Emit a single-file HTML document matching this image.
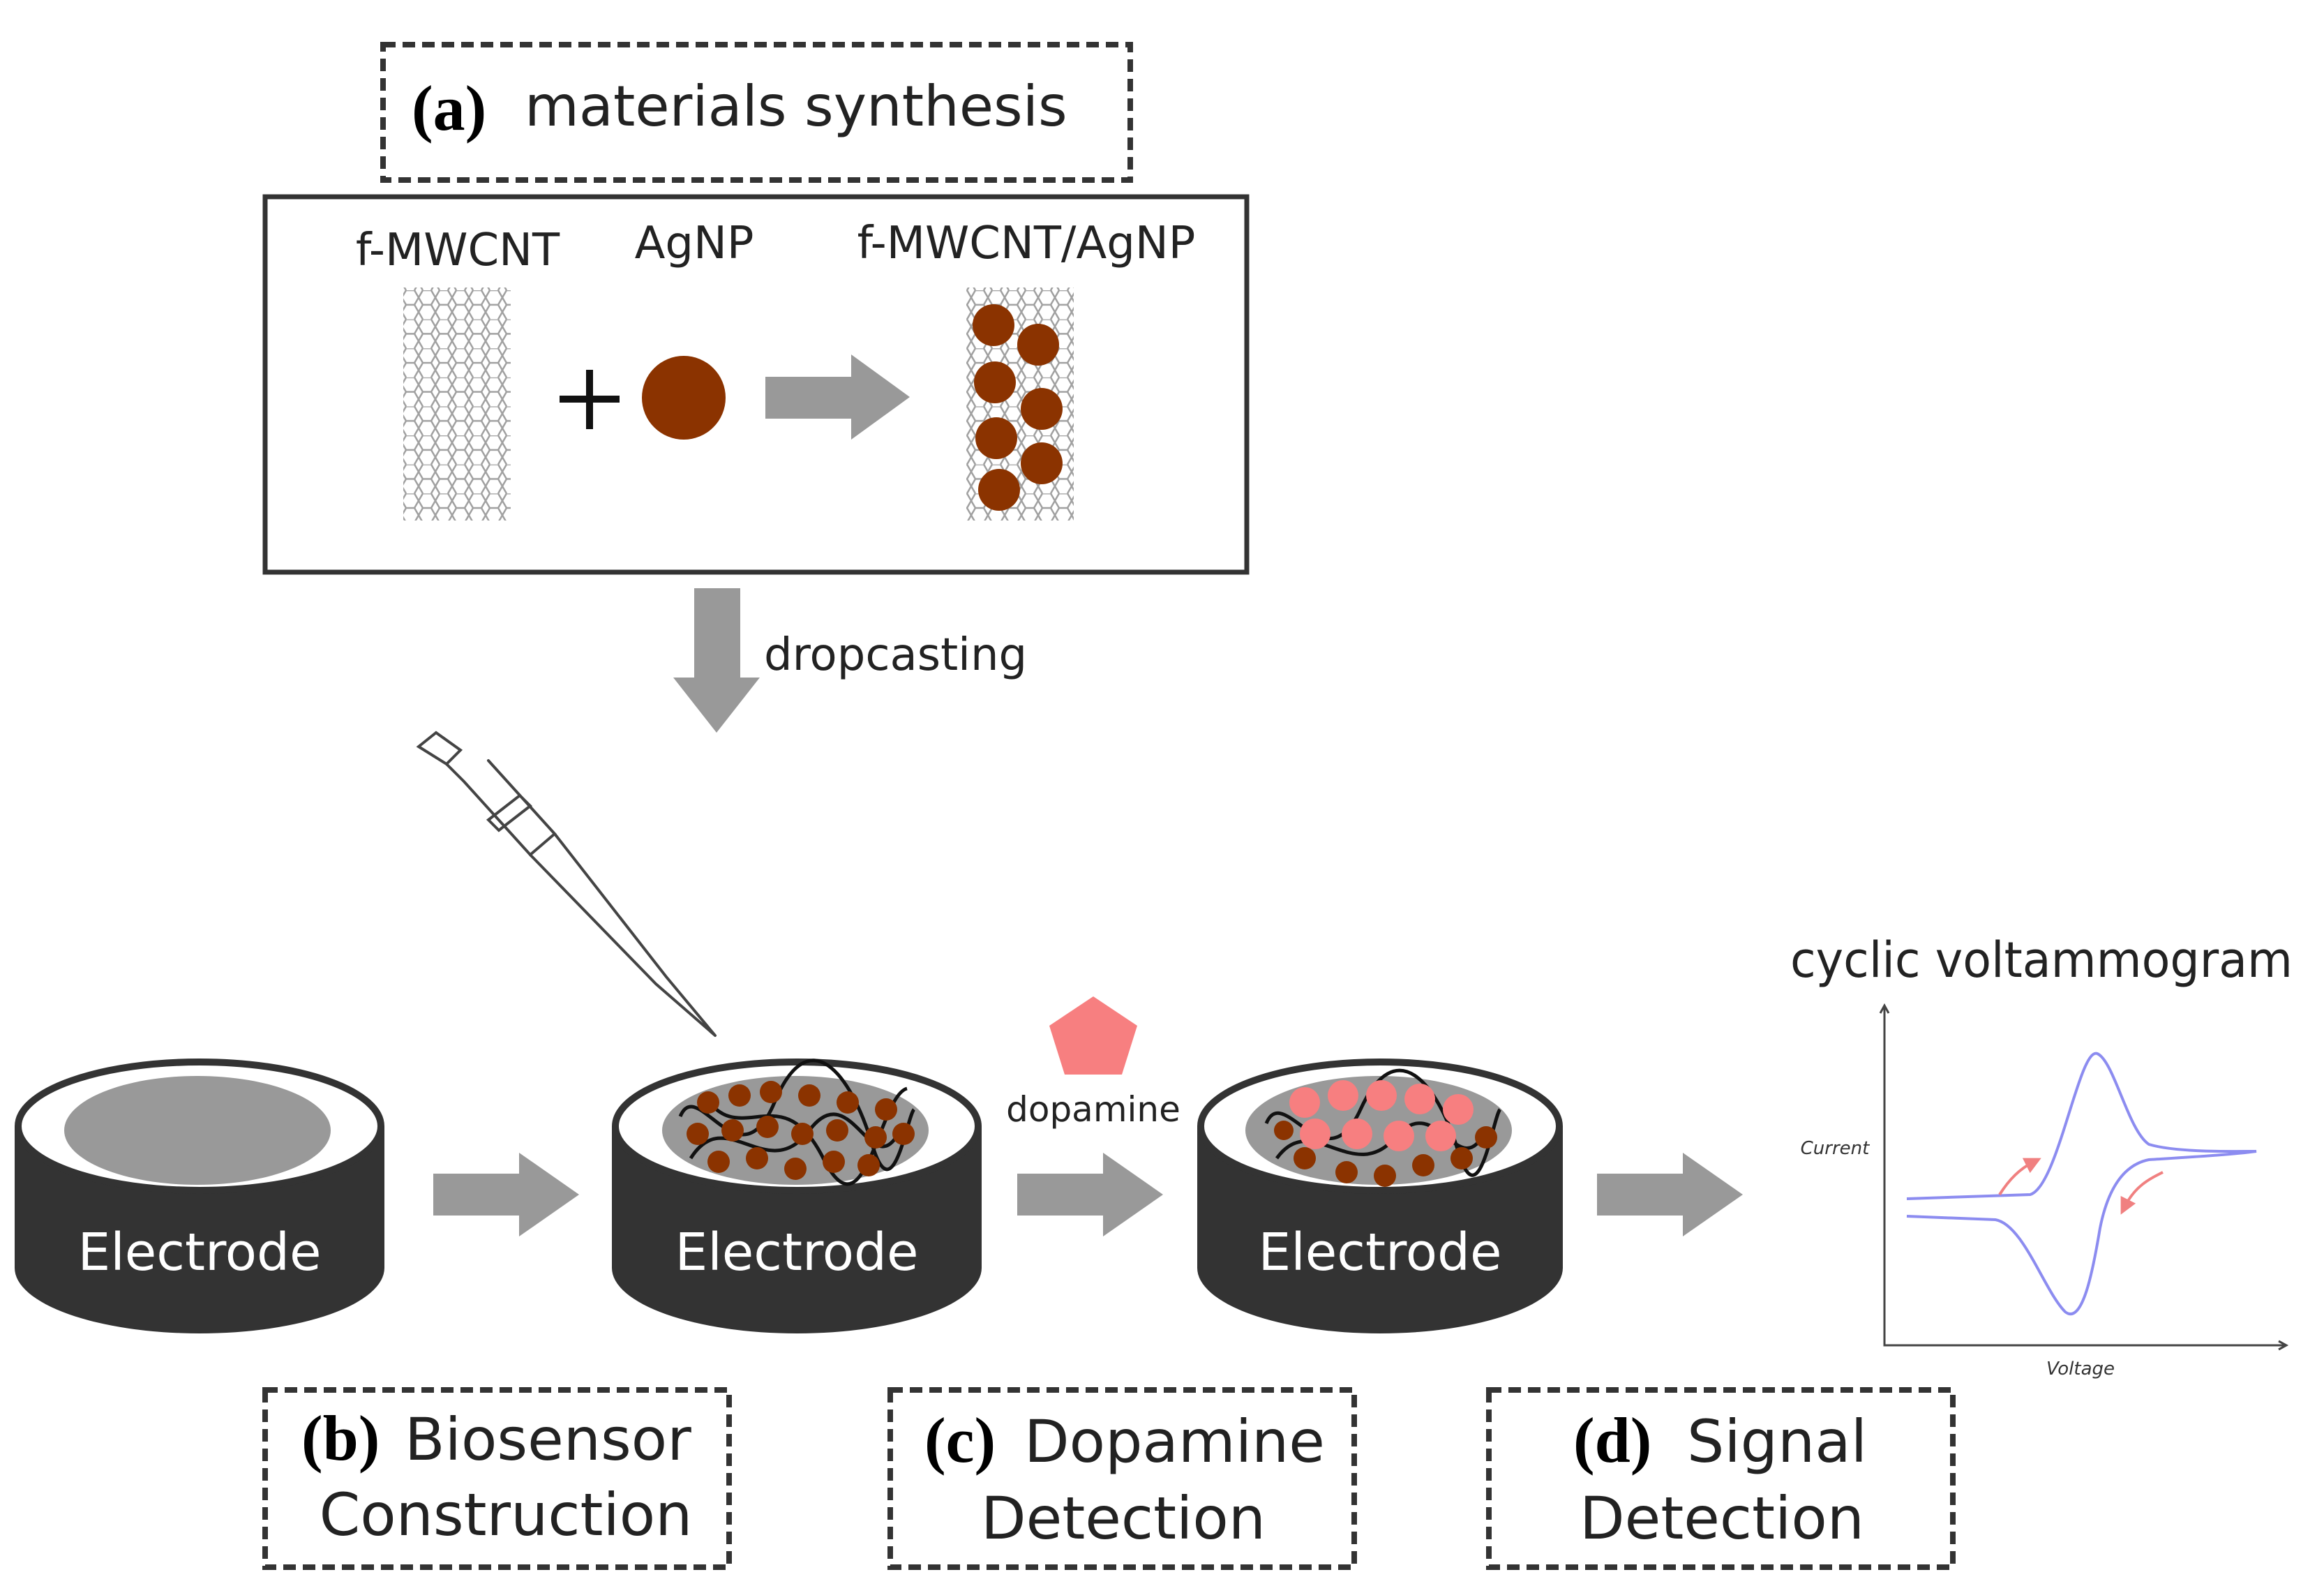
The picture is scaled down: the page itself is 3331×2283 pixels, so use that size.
<!DOCTYPE html>
<html><head><meta charset="utf-8"><style>
html,body{margin:0;padding:0;background:#fff}
svg{display:block}
text{font-family:"DejaVu Sans","Liberation Sans",sans-serif}
.ser{font-family:"Liberation Serif",serif;font-weight:bold}
</style></head><body>
<svg width="3331" height="2283" viewBox="0 0 3331 2283" xmlns="http://www.w3.org/2000/svg">
<defs>
<pattern id="hex" width="24" height="41.6" patternUnits="userSpaceOnUse">
<path d="M0,10.4 L6,0 L18,0 L24,10.4 L18,20.8 L6,20.8 Z M6,20.8 L0,31.2 L6,41.6 M18,20.8 L24,31.2 L18,41.6" fill="none" stroke="#888" stroke-width="2.5"/>
</pattern>
<marker id="ra" markerWidth="6" markerHeight="6" refX="3" refY="3" orient="auto"><path d="M0,0 L6,3 L0,6Z" fill="#f08080"/></marker>
</defs>

<rect x="549" y="64" width="1071" height="194" fill="none" stroke="#333" stroke-width="8" stroke-dasharray="18,10"/>
<text x="590" y="186" font-size="92" class="ser">(a)</text>
<text x="752" y="180" font-size="80" fill="#222">materials synthesis</text>

<rect x="380" y="282" width="1407" height="538" fill="none" stroke="#333" stroke-width="7"/>
<text x="656" y="380" font-size="64" text-anchor="middle" fill="#222">f-MWCNT</text>
<text x="995" y="370" font-size="64" text-anchor="middle" fill="#222">AgNP</text>
<text x="1471" y="370" font-size="64" text-anchor="middle" fill="#222">f-MWCNT/AgNP</text>

<rect x="578" y="412" width="154" height="334" fill="url(#hex)" opacity="0.8"/>
<path d="M845,530 V615 M802,572 H888" stroke="#111" stroke-width="10"/>
<circle cx="980" cy="570" r="60" fill="#8b3300"/>
<path d="M1097,540 H1220 V508 L1304,569 L1220,630 V600 H1097 Z" fill="#999"/>
<rect x="1385" y="412" width="154" height="334" fill="url(#hex)" opacity="0.8"/>
<g fill="#8b3300">
<circle cx="1424" cy="466" r="30"/><circle cx="1488" cy="494" r="30"/>
<circle cx="1426" cy="548" r="30"/><circle cx="1493" cy="586" r="30"/>
<circle cx="1428" cy="628" r="30"/><circle cx="1493" cy="664" r="30"/>
<circle cx="1432" cy="702" r="30"/>
</g>

<path d="M995,843 H1061 V971 H1089 L1027,1050 L965,971 H995 Z" fill="#999"/>
<text x="1095" y="960" font-size="64" fill="#222">dropcasting</text>

<g stroke="#444" stroke-width="4" fill="none" stroke-linecap="round">
<path d="M600,1070 L625,1050 L660,1075 L640,1095 Z"/>
<path d="M640,1095 L665,1120 L760,1225 L795,1195 L700,1090"/>
<path d="M700,1175 L745,1140 L760,1155 L715,1190 Z"/>
<path d="M760,1225 L940,1410 L1025,1484 M795,1195 L955,1400 L1025,1484"/>
</g>

<g>
<path d="M21,1614 V1817 A265,94 0 0 0 551,1817 V1614 Z" fill="#333"/>
<ellipse cx="286" cy="1614" rx="260" ry="92" fill="#fff" stroke="#333" stroke-width="10"/>
<ellipse cx="283" cy="1620" rx="191" ry="78" fill="#999"/>
<text x="286" y="1820" font-size="74" fill="#fff" text-anchor="middle">Electrode</text>
</g>
<g>
<path d="M877,1614 V1817 A265,94 0 0 0 1407,1817 V1614 Z" fill="#333"/>
<ellipse cx="1142" cy="1614" rx="260" ry="92" fill="#fff" stroke="#333" stroke-width="10"/>
<ellipse cx="1140" cy="1620" rx="191" ry="78" fill="#999"/>
<g stroke="#111" stroke-width="5" fill="none">
<path d="M975,1600 C1000,1540 1060,1700 1110,1580 S1220,1540 1250,1640 S1300,1600 1310,1590"/>
<path d="M990,1660 C1040,1580 1100,1700 1160,1620 S1250,1700 1290,1620"/>
<path d="M1010,1570 C1060,1650 1120,1540 1180,1660 S1260,1570 1300,1560"/>
</g>
<g fill="#8b3300">
<circle cx="1015" cy="1580" r="16"/><circle cx="1060" cy="1570" r="16"/><circle cx="1105" cy="1565" r="16"/><circle cx="1160" cy="1570" r="16"/><circle cx="1215" cy="1580" r="16"/><circle cx="1270" cy="1590" r="16"/>
<circle cx="1000" cy="1625" r="16"/><circle cx="1050" cy="1620" r="16"/><circle cx="1100" cy="1615" r="16"/><circle cx="1150" cy="1625" r="16"/><circle cx="1200" cy="1620" r="16"/><circle cx="1255" cy="1630" r="16"/><circle cx="1295" cy="1625" r="16"/>
<circle cx="1030" cy="1665" r="16"/><circle cx="1085" cy="1660" r="16"/><circle cx="1140" cy="1675" r="16"/><circle cx="1195" cy="1665" r="16"/><circle cx="1245" cy="1670" r="16"/>
</g>
<text x="1142" y="1820" font-size="74" fill="#fff" text-anchor="middle">Electrode</text>
</g>
<g>
<path d="M1716,1614 V1817 A262,94 0 0 0 2240,1817 V1614 Z" fill="#333"/>
<ellipse cx="1978" cy="1614" rx="257" ry="92" fill="#fff" stroke="#333" stroke-width="10"/>
<ellipse cx="1976" cy="1620" rx="191" ry="78" fill="#999"/>
<g stroke="#111" stroke-width="5" fill="none">
<path d="M1815,1610 C1840,1550 1900,1700 1950,1590 S2060,1550 2090,1650 S2140,1600 2150,1590"/>
<path d="M1830,1660 C1880,1590 1940,1700 2000,1630 S2090,1700 2130,1620"/>
</g>
<g fill="#8b3300">
<circle cx="1870" cy="1660" r="16"/><circle cx="1930" cy="1680" r="16"/><circle cx="1985" cy="1685" r="16"/><circle cx="2040" cy="1670" r="16"/><circle cx="2095" cy="1660" r="16"/><circle cx="2130" cy="1630" r="16"/><circle cx="1840" cy="1620" r="14"/>
</g>
<g fill="#f77f80">
<circle cx="1870" cy="1580" r="22"/><circle cx="1925" cy="1570" r="22"/><circle cx="1980" cy="1570" r="22"/><circle cx="2035" cy="1575" r="22"/><circle cx="2090" cy="1590" r="22"/>
<circle cx="1885" cy="1625" r="22"/><circle cx="1945" cy="1625" r="22"/><circle cx="2005" cy="1628" r="22"/><circle cx="2065" cy="1628" r="22"/>
</g>
<text x="1978" y="1820" font-size="74" fill="#fff" text-anchor="middle">Electrode</text>
</g>

<path d="M621,1682 H744 V1652 L830,1712 L744,1772 V1742 H621 Z" fill="#999"/>
<path d="M1458,1682 H1581 V1652 L1667,1712 L1581,1772 V1742 H1458 Z" fill="#999"/>
<path d="M2289,1682 H2412 V1652 L2498,1712 L2412,1772 V1742 H2289 Z" fill="#999"/>

<polygon points="1567,1428 1630,1470 1608,1540 1526,1540 1504,1470" fill="#f77f80"/>
<text x="1567" y="1607" font-size="50" text-anchor="middle" fill="#222">dopamine</text>

<text x="2566" y="1400" font-size="70" fill="#222" textLength="720" lengthAdjust="spacingAndGlyphs">cyclic voltammogram</text>
<path d="M2701,1441 V1928 H3277" fill="none" stroke="#444" stroke-width="3"/>
<path d="M2695,1452 L2701,1441 L2707,1452 M3266,1922 L3277,1928 L3266,1934" fill="none" stroke="#444" stroke-width="3"/>
<text x="2630" y="1654" font-size="26" font-style="italic" fill="#333" text-anchor="middle">Current</text>
<text x="2982" y="1970" font-size="26" font-style="italic" fill="#333" text-anchor="middle">Voltage</text>
<path d="M2733,1718 L2910,1712 C2950,1700 2980,1500 3006,1510 C3030,1520 3050,1620 3080,1640 C3120,1652 3200,1650 3234,1650 C3190,1656 3110,1660 3080,1662 C3040,1670 3020,1710 3010,1760 C3000,1820 2985,1900 2960,1880 C2930,1850 2900,1755 2860,1748 L2733,1743" fill="none" stroke="#8c8cf0" stroke-width="4"/>
<path d="M2866,1712 C2880,1690 2895,1675 2915,1665" fill="none" stroke="#f08080" stroke-width="4" marker-end="url(#ra)"/>
<path d="M3100,1680 C3080,1690 3060,1700 3045,1730" fill="none" stroke="#f08080" stroke-width="4" marker-end="url(#ra)"/>

<rect x="380" y="1992" width="665" height="254" fill="none" stroke="#333" stroke-width="8" stroke-dasharray="18,10"/>
<text x="432" y="2092" font-size="92" class="ser">(b)</text>
<text x="580" y="2092" font-size="84" fill="#222">Biosensor</text>
<text x="725" y="2200" font-size="84" fill="#222" text-anchor="middle">Construction</text>
<rect x="1276" y="1992" width="665" height="254" fill="none" stroke="#333" stroke-width="8" stroke-dasharray="18,10"/>
<text x="1325" y="2095" font-size="92" class="ser">(c)</text>
<text x="1468" y="2095" font-size="84" fill="#222">Dopamine</text>
<text x="1610" y="2205" font-size="84" fill="#222" text-anchor="middle">Detection</text>
<rect x="2134" y="1992" width="665" height="254" fill="none" stroke="#333" stroke-width="8" stroke-dasharray="18,10"/>
<text x="2255" y="2095" font-size="92" class="ser">(d)</text>
<text x="2418" y="2095" font-size="84" fill="#222">Signal</text>
<text x="2468" y="2205" font-size="84" fill="#222" text-anchor="middle">Detection</text>
</svg>
</body></html>
